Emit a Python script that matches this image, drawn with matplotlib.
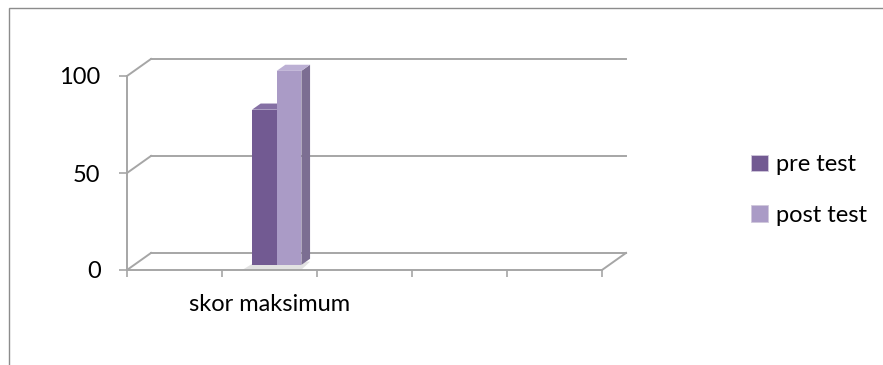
import matplotlib.pyplot as plt
from matplotlib.patches import Patch, Polygon, Rectangle

plt.rcParams['font.family'] = ['Lato', 'DejaVu Sans']

# data
categories = ['', 'skor maksimum', '', '', '']
series_names = ['pre test', 'post test']
pre_test = [0, 80, 0, 0, 0]
post_test = [0, 100, 0, 0, 0]
y_ticks = [0, 50, 100]

# style
FRONT = ['#725a92', '#aa9bc6']
SIDE = ['#5a4775', '#7c6e92']
TOP = ['#8570a4', '#bcb0d4']
GRID = '#a6a6a6'
BAR_W = 0.26
DX, DY = 0.253, 8.8          # depth of the back wall in data units
F0, F1 = 0.30, 0.66          # front / back depth of the bars

fig = plt.figure(figsize=(8.83, 3.65), dpi=100)
ax = fig.add_axes([127 / 883, 95 / 365, 475 / 883, 194 / 365])
ax.set_xlim(0, len(categories))
ax.set_ylim(0, 100)

# back wall gridlines and side diagonals
for v in y_ticks:
    ax.plot([DX, len(categories) + DX], [v + DY, v + DY], color=GRID, lw=1.4, clip_on=False, zorder=1)
    ax.plot([0, DX], [v, v + DY], color=GRID, lw=1.4, clip_on=False, zorder=1)
ax.plot([len(categories), len(categories) + DX], [0, DY], color=GRID, lw=1.4, clip_on=False, zorder=1)

# bars
n = len(categories)
for s, vals in enumerate([pre_test, post_test]):
    for i in range(n):
        if vals[i] == 0:
            continue
        x0 = i + 0.5 - BAR_W + s * BAR_W + F0 * DX
        x1 = x0 + BAR_W
        b = F0 * DY
        top = vals[i] + b
        d = F1 - F0
        if s == 0:
            shadow = Polygon([(x0 - 0.1, b - 2.5), (x0 + 2 * BAR_W, b - 2.5),
                              (x0 + 2 * BAR_W + d * DX, b + d * DY - 1.5), (x0 + d * DX - 0.05, b + d * DY - 1.5)],
                             closed=True, facecolor='#e2e2e2', edgecolor='none', clip_on=False, zorder=2)
            ax.add_patch(shadow)
        ax.bar(x0, vals[i], bottom=b, width=BAR_W, align='edge', color=FRONT[s],
               edgecolor='none', zorder=4 + s * 3, clip_on=False)
        ax.add_patch(Polygon([(x1, b), (x1 + d * DX, b + d * DY), (x1 + d * DX, top + d * DY), (x1, top)],
                             closed=True, facecolor=SIDE[s], edgecolor='none', zorder=3 + s * 3, clip_on=False))
        ax.add_patch(Polygon([(x0, top), (x0 + d * DX, top + d * DY), (x1 + d * DX, top + d * DY), (x1, top)],
                             closed=True, facecolor=TOP[s], edgecolor='none', zorder=3 + s * 3, clip_on=False))

# axes
for side in ['top', 'right']:
    ax.spines[side].set_visible(False)
for side in ['left', 'bottom']:
    ax.spines[side].set_color(GRID)
    ax.spines[side].set_linewidth(1.4)
ax.set_yticks(y_ticks)
ax.set_yticklabels([str(v) for v in y_ticks], fontsize=17)
ax.tick_params(axis='y', length=6, width=1.2, color=GRID, pad=13)
ax.set_xticks(range(n + 1))
ax.set_xticklabels([])
ax.set_xticks([i + 0.5 for i in range(n)], minor=True)
ax.set_xticklabels(categories, minor=True, fontsize=17)
ax.tick_params(axis='x', which='major', length=5, width=1.2, color=GRID)
ax.tick_params(axis='x', which='minor', length=0, pad=17)
ax.patch.set_visible(False)

# legend
handles = [Patch(facecolor=FRONT[k], edgecolor='#d0c8dc', linewidth=0.6) for k in range(2)]
fig.legend(handles, series_names, loc='center left', bbox_to_anchor=(730 / 883, 1 - 190 / 365),
           frameon=False, fontsize=17, handlelength=0.7, handleheight=0.7, handletextpad=0.35,
           labelspacing=1.25)

# chart frame
fig.add_artist(Rectangle((9 / 883, -0.1), 2, 1.1 - 8.5 / 365, transform=fig.transFigure,
                         fill=False, edgecolor='#8c8c8c', linewidth=1.0))

fig.savefig('out.png', dpi=100)
